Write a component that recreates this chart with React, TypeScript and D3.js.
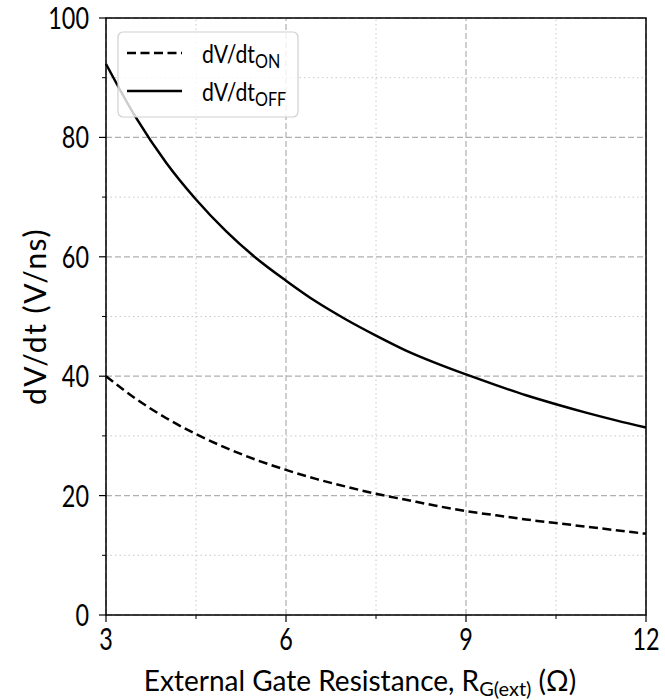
import React from 'react';
import * as d3 from 'd3';

// resistance values (ohm)
const rg = [3, 3.5, 4, 4.5, 5, 5.5, 6, 6.5, 7, 7.5, 8, 8.5, 9, 9.5, 10, 10.5, 11, 11.5, 12];
// dV/dt on (V/ns)
const dvdtOn = [40.0, 36.2, 33.0, 30.3, 28.0, 26.0, 24.3, 22.8, 21.5, 20.3, 19.3, 18.3, 17.4, 16.7, 16.0, 15.4, 14.8, 14.2, 13.6];
// dV/dt off (V/ns)
const dvdtOff = [92.3, 83.3, 75.8, 69.6, 64.3, 59.8, 56.0, 52.5, 49.5, 46.8, 44.3, 42.2, 40.3, 38.5, 36.8, 35.3, 33.9, 32.6, 31.4];

const xMajor = [3, 6, 9, 12];
const xMinor = [4.5, 7.5, 10.5];
const yMajor = [0, 20, 40, 60, 80, 100];
const yMinor = [10, 30, 50, 70, 90];

const W = 665;
const H = 700;
const m = { left: 106, right: 19, top: 18, bottom: 85 };
const font = 'Lato, "Noto Sans", sans-serif';
const squeeze = 0.78; // condensed look of the tick font

export default function App() {
  const x = d3.scaleLinear().domain([3, 12]).range([m.left, W - m.right]);
  const y = d3.scaleLinear().domain([0, 100]).range([H - m.bottom, m.top]);

  const line = d3.line<number>()
    .x((_, i) => x(rg[i]))
    .y(d => y(d))
    .curve(d3.curveMonotoneX);

  const [x0, x1] = x.range();
  const [y0, y1] = y.range();

  return (
    <svg width={W} height={H} style={{ position: 'absolute', left: 0, top: 0, background: '#fff' }}
      fontFamily={font}>
      {/* minor grid */}
      {xMinor.map(v => (
        <line key={'xm' + v} x1={x(v)} x2={x(v)} y1={y0} y2={y1} stroke="#c8c8c8" strokeWidth={1} strokeDasharray="1.5,3" />
      ))}
      {yMinor.map(v => (
        <line key={'ym' + v} x1={x0} x2={x1} y1={y(v)} y2={y(v)} stroke="#c8c8c8" strokeWidth={1} strokeDasharray="1.5,3" />
      ))}
      {/* major grid */}
      {xMajor.map(v => (
        <line key={'xg' + v} x1={x(v)} x2={x(v)} y1={y0} y2={y1} stroke="#b0b0b0" strokeWidth={1.2} strokeDasharray="6,3" />
      ))}
      {yMajor.map(v => (
        <line key={'yg' + v} x1={x0} x2={x1} y1={y(v)} y2={y(v)} stroke="#b0b0b0" strokeWidth={1.2} strokeDasharray="6,3" />
      ))}

      <path d={line(dvdtOn) || ''} fill="none" stroke="#000" strokeWidth={2.5} strokeDasharray="9,4.5" />
      <path d={line(dvdtOff) || ''} fill="none" stroke="#000" strokeWidth={2.5} />

      {/* frame */}
      <rect x={x0} y={y1} width={x1 - x0} height={y0 - y1} fill="none" stroke="#000" strokeWidth={1.5} />

      {/* ticks */}
      {yMajor.map(v => (
        <g key={'yt' + v}>
          <line x1={x0 - 7} x2={x0} y1={y(v)} y2={y(v)} stroke="#000" strokeWidth={1.2} />
          <text transform={`translate(${x0 - 17}, ${y(v) + 11}) scale(${squeeze}, 1)`} textAnchor="end" fontSize={30}>{v}</text>
        </g>
      ))}
      {yMinor.map(v => (
        <line key={'ymt' + v} x1={x0 - 4} x2={x0} y1={y(v)} y2={y(v)} stroke="#000" strokeWidth={1} />
      ))}
      {xMajor.map(v => (
        <g key={'xt' + v}>
          <line x1={x(v)} x2={x(v)} y1={y0} y2={y0 + 7} stroke="#000" strokeWidth={1.2} />
          <text transform={`translate(${x(v)}, 650) scale(${squeeze}, 1)`} textAnchor="middle" fontSize={30}>{v}</text>
        </g>
      ))}
      {xMinor.map(v => (
        <line key={'xmt' + v} x1={x(v)} x2={x(v)} y1={y0} y2={y0 + 4} stroke="#000" strokeWidth={1} />
      ))}

      {/* axis labels */}
      <text x={360} y={691} textAnchor="middle" fontSize={28}>
        External Gate Resistance, R<tspan fontSize={20} dy={5}>G(ext)</tspan><tspan dy={-5}> (Ω)</tspan>
      </text>
      <text transform={`translate(46, ${(y0 + y1) / 2}) rotate(-90)`} textAnchor="middle" fontSize={30} letterSpacing={1.5}>
        dV/dt (V/ns)
      </text>

      {/* legend */}
      <rect x={118} y={32} width={180} height={85} rx={5} fill="#fff" fillOpacity={0.8} stroke="#d0d0d0" strokeWidth={1.2} />
      <line x1={127} x2={182} y1={53} y2={53} stroke="#000" strokeWidth={2.5} strokeDasharray="9,4.5" />
      <line x1={127} x2={182} y1={91} y2={91} stroke="#000" strokeWidth={2.5} />
      <text transform="translate(202, 63) scale(0.85, 1)" fontSize={25}>dV/dt<tspan fontSize={19} dy={5}>ON</tspan></text>
      <text transform="translate(202, 101) scale(0.85, 1)" fontSize={25}>dV/dt<tspan fontSize={19} dy={5}>OFF</tspan></text>
    </svg>
  );
}
